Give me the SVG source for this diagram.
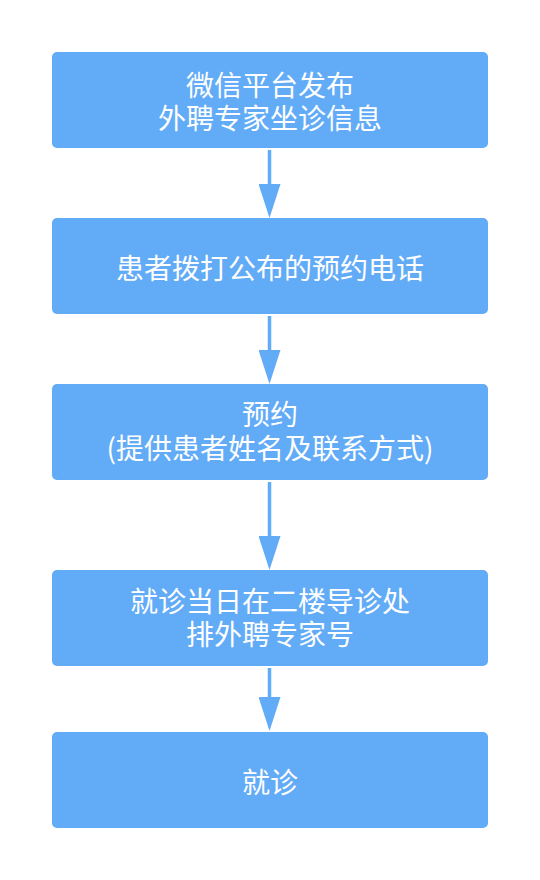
<svg xmlns="http://www.w3.org/2000/svg" width="540" height="880" viewBox="0 0 540 880">
<style>
.box{fill:#62abf7;}
.t{fill:#ffffff;font-family:"Noto Sans CJK SC","Noto Sans",sans-serif;font-size:28px;text-anchor:middle;}
.c{stroke:#62abf7;stroke-width:3.5;fill:none;}
</style>
<defs>
<marker id="ah" markerUnits="userSpaceOnUse" markerWidth="34" markerHeight="22" refX="0" refY="11" orient="auto" viewBox="0 0 34 22">
<path d="M0,0 L34,11 L0,22 Z" fill="#62abf7"/>
</marker>
</defs>
<rect width="540" height="880" fill="#ffffff"/>
<g id="connectors">
<line class="c" x1="269.5" y1="150" x2="269.5" y2="184" marker-end="url(#ah)"/>
<line class="c" x1="269.5" y1="316" x2="269.5" y2="350" marker-end="url(#ah)"/>
<line class="c" x1="269.5" y1="482" x2="269.5" y2="536" marker-end="url(#ah)"/>
<line class="c" x1="269.5" y1="668" x2="269.5" y2="697" marker-end="url(#ah)"/>
</g>
<g id="node1">
<rect class="box" x="52" y="52" width="436" height="96" rx="5"/>
<text class="t" x="270" y="96">微信平台发布</text>
<text class="t" x="270" y="129">外聘专家坐诊信息</text>
</g>
<g id="node2">
<rect class="box" x="52" y="218" width="436" height="96" rx="5"/>
<text class="t" x="270" y="279">患者拨打公布的预约电话</text>
</g>
<g id="node3">
<rect class="box" x="52" y="384" width="436" height="96" rx="5"/>
<text class="t" x="270" y="425">预约</text>
<text class="t" x="270" y="459">(提供患者姓名及联系方式)</text>
</g>
<g id="node4">
<rect class="box" x="52" y="570" width="436" height="96" rx="5"/>
<text class="t" x="270" y="612">就诊当日在二楼导诊处</text>
<text class="t" x="270" y="645">排外聘专家号</text>
</g>
<g id="node5">
<rect class="box" x="52" y="732" width="436" height="96" rx="5"/>
<text class="t" x="270" y="793">就诊</text>
</g>
</svg>
